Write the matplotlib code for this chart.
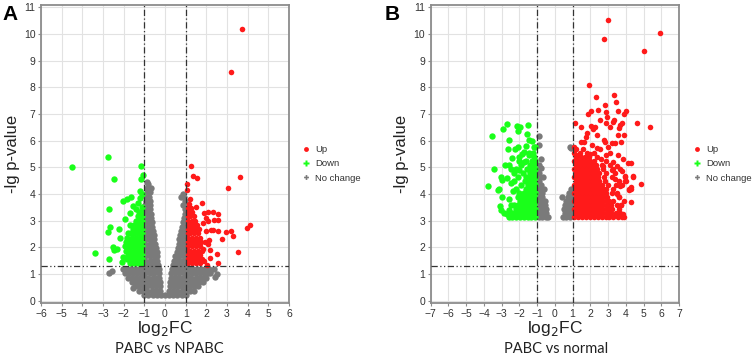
import matplotlib
matplotlib.use("Agg")
import matplotlib.pyplot as plt
from matplotlib.lines import Line2D

plt.rcParams['font.family'] = ['Liberation Sans', 'DejaVu Sans']

# ---------------- panel A : PABC vs NPABC ----------------
# dense parts written as rows: (y, [x, x, ...])
gray_a_rows = [
    (0.22, [-1.0, -0.8, -0.6, -0.4, -0.2, 0.0, 0.2, 0.4, 0.6, 0.8, 1.0]),
    (0.38, [-1.25, -1.05, -0.85, -0.65, -0.45, -0.25, 0.2, 0.4, 0.6, 0.8, 1.0, 1.2, 1.4]),
    (0.54, [-1.45, -1.25, -1.05, -0.85, -0.65, -0.45, -0.23, 0.22, 0.42, 0.62, 0.82, 1.02, 1.22, 1.42, 1.62]),
    (0.70, [-1.62, -1.42, -1.22, -1.02, -0.82, -0.62, -0.42, -0.25, 0.25, 0.45, 0.65, 0.85, 1.05, 1.25, 1.45, 1.65, 1.85]),
    (0.86, [-1.8, -1.6, -1.4, -1.2, -1.0, -0.8, -0.6, -0.4, -0.27, 0.28, 0.48, 0.68, 0.88, 1.08, 1.28, 1.48, 1.68, 1.88, 2.0]),
    (1.02, [-1.95, -1.75, -1.55, -1.35, -1.15, -0.95, -0.75, -0.55, -0.3, 0.31, 0.5, 0.7, 0.9, 1.1, 1.3, 1.5, 1.7, 1.9, 2.1, 2.2]),
    (1.18, [-2.05, -1.85, -1.65, -1.45, -1.25, -1.05, -0.85, -0.65, -0.45, -0.31, 0.35, 0.55, 0.75, 0.95, 1.15, 1.35, 1.55, 1.75, 1.95, 2.15, 2.35]),
    (1.34, [-0.95, -0.75, -0.55, -0.34, 0.38, 0.58, 0.78, 0.95]),
    (1.50, [-0.95, -0.75, -0.55, -0.37, 0.43, 0.63, 0.83, 0.95]),
    (1.66, [-0.95, -0.75, -0.55, -0.39, 0.5, 0.7, 0.9]),
    (1.82, [-0.95, -0.75, -0.58, -0.41, 0.56, 0.76, 0.95]),
    (1.98, [-0.95, -0.75, -0.6, -0.44, 0.62, 0.8, 0.95]),
    (2.14, [-0.95, -0.75, -0.6, -0.47, 0.67, 0.82, 0.95]),
    (2.30, [-0.95, -0.77, -0.6, -0.51, 0.7, 0.85, 0.95]),
    (2.46, [-0.95, -0.78, -0.62, -0.54, 0.74, 0.88, 0.95]),
    (2.62, [-0.95, -0.78, -0.6, 0.78, 0.92]),
    (2.78, [-0.95, -0.8, -0.62, 0.83, 0.95]),
    (2.94, [-0.95, -0.8, -0.65, 0.88, 0.96]),
    (3.10, [-0.95, -0.8, -0.68, 0.93]),
    (3.26, [-0.95, -0.82, -0.7, 0.95]),
    (3.42, [-0.95, -0.82, -0.72, 0.96]),
    (3.58, [-0.95, -0.8, -0.74, 0.85, 0.96]),
    (3.74, [-0.93, -0.78, 0.95]),
    (3.90, [-0.9, -0.78, 0.75, 0.9]),
    (4.06, [-0.88, -0.75]),
    (4.22, [-0.85, -0.7]),
    (4.38, [-0.82]),
]
gray_a_x = [-2.71, -2.55, 2.42, 2.18, 2.53, -1.56, -0.88, 0.88, -0.75]
gray_a_y = [1.02, 1.10, 0.90, 1.09, 1.00, 0.46, 4.45, 4.00, 3.75]

down_a_rows = [
    (1.40, [-1.1, -1.3, -1.5, -1.7]),
    (1.56, [-1.1, -1.3, -1.5, -1.7, -1.85]),
    (1.72, [-1.1, -1.2, -1.4, -1.6, -1.8]),
    (1.88, [-1.1, -1.3, -1.5, -1.7, -1.9]),
    (2.04, [-1.1, -1.2, -1.4, -1.6, -1.8, -1.95]),
    (2.20, [-1.1, -1.3, -1.5, -1.7, -1.9]),
    (2.36, [-1.1, -1.2, -1.4, -1.6, -1.85]),
    (2.52, [-1.1, -1.3, -1.5, -1.65, -1.8]),
    (2.68, [-1.1, -1.2, -1.4, -1.55]),
    (2.84, [-1.1, -1.3, -1.5, -1.7]),
    (3.00, [-1.1, -1.2, -1.4]),
    (3.16, [-1.1, -1.3]),
    (3.32, [-1.15, -1.25]),
    (3.50, [-1.1]),
]
down_a_x = [-4.49, -2.76, -2.47, -1.18, -1.05, -1.16, -1.21, -1.32, -1.65, -1.85, -2.02, -1.69,
            -2.69, -2.77, -2.66, -2.50, -2.47, -2.69, -3.39, -2.20, -2.10, -2.25, -1.95, -2.05,
            -2.30, -1.20, -1.40, -1.55, -1.10]
down_a_y = [5.00, 5.37, 4.55, 5.04, 4.73, 4.58, 4.11, 3.67, 3.90, 3.80, 3.73, 3.27,
            3.43, 2.58, 2.75, 2.02, 1.90, 1.56, 1.80, 2.35, 1.45, 2.70, 3.05, 1.65,
            1.95, 3.85, 3.45, 3.55, 4.00]

up_a_rows = [
    (1.40, [1.1, 1.3, 1.5, 1.7]),
    (1.56, [1.1, 1.2, 1.4, 1.6, 1.8]),
    (1.72, [1.1, 1.3, 1.5, 1.7]),
    (1.88, [1.1, 1.2, 1.4, 1.6, 1.8]),
    (2.04, [1.1, 1.3, 1.5, 1.7]),
    (2.20, [1.1, 1.2, 1.4, 1.6, 1.75]),
    (2.36, [1.1, 1.3, 1.5, 1.7]),
    (2.52, [1.1, 1.2, 1.4, 1.6]),
    (2.68, [1.1, 1.3, 1.5, 1.65]),
    (2.84, [1.1, 1.2, 1.4, 1.55]),
    (3.00, [1.1, 1.3, 1.45]),
    (3.16, [1.1, 1.2, 1.4]),
    (3.32, [1.1, 1.3]),
    (3.48, [1.1, 1.25]),
    (3.64, [1.15]),
]
up_a_x = [3.74, 3.19, 3.63, 3.06, 1.24, 1.37, 1.53, 1.08, 1.05, 1.77, 2.06, 2.34, 2.55, 2.37,
          2.58, 2.10, 4.11, 3.98, 3.19, 2.95, 3.31, 2.58, 2.32, 2.23, 2.74, 3.51, 2.50, 2.58,
          2.14, 2.09, 2.18, 1.90, 2.00, 1.95, 2.20, 1.90, 2.05, 1.85, 2.00, 1.85, 1.20, 1.50]
up_a_y = [10.20, 8.58, 4.62, 4.21, 5.06, 4.67, 4.61, 4.37, 4.14, 3.67, 3.33, 3.33, 3.25, 3.03,
          3.03, 3.00, 2.84, 2.71, 2.62, 2.58, 2.43, 2.62, 2.65, 2.65, 2.31, 1.84, 1.75, 1.42,
          2.27, 2.11, 1.90, 3.30, 2.60, 2.20, 1.60, 1.50, 1.35, 2.90, 3.10, 1.95, 3.80, 3.50]

# ---------------- panel B : PABC vs normal ----------------
gray_b_rows = [
    (3.15, [-0.9, -0.7, -0.5, -0.4, 0.45, 0.65, 0.85]),
    (3.30, [-0.9, -0.7, -0.5, 0.55, 0.75, 0.92]),
    (3.45, [-0.9, -0.7, -0.5, 0.5, 0.7, 0.9]),
    (3.60, [-0.9, -0.7, -0.55, 0.6, 0.8, 0.92]),
    (3.75, [-0.9, -0.7, -0.55, 0.65, 0.85]),
    (3.90, [-0.9, -0.72, 0.4, 0.75, 0.92]),
    (4.05, [-0.9, -0.75, 0.8, 0.92]),
    (4.20, [-0.9, -0.62, 0.9]),
    (4.35, [-0.92, -0.8]),
    (4.50, [-0.9]),
    (4.65, [-0.92, -0.66]),
    (4.80, [-0.9]),
    (4.96, [-0.76, -0.92]),
    (5.10, [-0.88]),
    (5.33, [-0.79]),
]
gray_b_x = [-0.88, -0.88, 0.85, 0.90]
gray_b_y = [5.83, 6.17, 5.77, 5.73]

down_b_rows = [
    (3.15, [-1.1, -1.32, -1.54, -1.76, -1.98, -2.2, -2.42, -2.6]),
    (3.30, [-1.2, -1.42, -1.64, -1.86, -2.08, -2.3, -2.5]),
    (3.45, [-1.1, -1.32, -1.54, -1.76, -1.98, -2.2]),
    (3.60, [-1.2, -1.42, -1.64, -1.86, -2.08, -2.3]),
    (3.75, [-1.1, -1.32, -1.54, -1.76, -1.98]),
    (3.90, [-1.2, -1.42, -1.64, -1.86, -2.1]),
    (4.05, [-1.1, -1.32, -1.54, -1.76, -2.0]),
    (4.20, [-1.2, -1.42, -1.64, -2.2]),
    (4.35, [-1.1, -1.32, -1.5, -1.9]),
    (4.50, [-1.2, -1.42, -1.7, -2.3]),
    (4.65, [-1.1, -1.32, -1.6, -2.05]),
    (4.80, [-1.2, -1.4, -1.8]),
    (4.95, [-1.1, -1.3, -1.55, -2.2]),
    (5.10, [-1.2, -1.38, -1.9]),
    (5.25, [-1.1, -1.3, -1.6]),
    (5.40, [-1.2, -2.0]),
    (5.55, [-1.25, -1.45]),
    (5.75, [-1.1, -1.2]),
]
down_b_x = [-3.56, -2.68, -2.91, -2.12, -1.97, -2.05, -1.55, -1.44, -1.50, -2.57, -2.24, -2.10,
            -1.76, -1.85, -2.40, -3.43, -3.75, -2.80, -2.57, -3.04, -3.00, -3.22, -3.16, -2.97,
            -3.12, -3.04, -2.57, -2.53, -2.70, -2.45, -2.60, -2.35, -2.50, -2.70, -2.30, -2.00,
            -2.45, -1.75, -1.45, -2.65, -2.00, -1.65, -1.30, -2.85]
down_b_y = [6.18, 6.64, 6.42, 6.55, 6.52, 6.38, 6.24, 6.04, 6.60, 6.04, 5.70, 5.77,
            5.56, 5.50, 5.36, 4.92, 4.30, 5.10, 5.10, 4.64, 4.52, 4.15, 4.20, 3.90,
            3.55, 3.40, 3.40, 3.20, 3.25, 3.60, 3.80, 4.10, 4.40, 4.60, 4.80, 4.90,
            4.95, 5.20, 5.45, 5.70, 5.25, 5.80, 6.00, 3.30]

up_b_rows = [
    (3.15, [1.1, 1.32, 1.54, 1.76, 1.98, 2.2, 2.42, 2.64, 2.86, 3.08, 3.3, 3.55, 3.8, 3.88]),
    (3.30, [1.2, 1.42, 1.64, 1.86, 2.08, 2.3, 2.52, 2.74, 2.96, 3.18, 3.45, 3.7]),
    (3.45, [1.1, 1.32, 1.54, 1.76, 1.98, 2.2, 2.42, 2.64, 2.86, 3.08, 3.25, 3.6]),
    (3.60, [1.2, 1.42, 1.64, 1.86, 2.08, 2.3, 2.52, 2.74, 2.96, 3.15, 3.5, 3.74]),
    (3.75, [1.1, 1.32, 1.54, 1.76, 1.98, 2.2, 2.42, 2.64, 2.86, 3.05, 3.3]),
    (3.90, [1.2, 1.42, 1.64, 1.86, 2.08, 2.3, 2.52, 2.74, 2.96, 3.64]),
    (4.05, [1.1, 1.32, 1.54, 1.76, 1.98, 2.2, 2.42, 2.64, 2.86, 3.2, 3.5]),
    (4.20, [1.2, 1.42, 1.64, 1.86, 2.08, 2.3, 2.52, 2.74, 2.9, 3.3, 4.19, 4.3]),
    (4.35, [1.1, 1.32, 1.54, 1.76, 1.98, 2.2, 2.42, 2.64, 3.0, 3.45, 3.8]),
    (4.50, [1.2, 1.42, 1.64, 1.86, 2.08, 2.3, 2.5, 2.8, 3.6, 4.0]),
    (4.65, [1.1, 1.32, 1.54, 1.76, 1.98, 2.2, 2.42, 2.75, 3.2, 3.96, 4.42]),
    (4.80, [1.2, 1.42, 1.64, 1.86, 2.08, 2.3, 2.5, 2.9, 3.4]),
    (4.95, [1.1, 1.32, 1.54, 1.76, 1.98, 2.2, 2.4, 2.7, 3.3, 3.7]),
    (5.10, [1.2, 1.42, 1.64, 1.86, 2.08, 2.3, 2.65, 3.1]),
    (5.25, [1.1, 1.32, 1.54, 1.76, 1.98, 2.2, 2.9]),
    (5.40, [1.2, 1.5, 1.72, 1.95, 2.4]),
    (5.55, [1.1, 1.4, 1.8, 2.2]),
]
up_b_x = [3.00, 2.77, 5.93, 5.01, 1.91, 2.30, 3.34, 3.45, 2.85, 2.04, 2.45, 2.87, 3.58, 4.00,
          3.91, 2.55, 3.26, 3.34, 4.66, 5.34, 1.13, 1.49, 1.79, 2.13, 2.25, 2.89, 3.11, 3.68,
          3.77, 3.62, 3.91, 1.75, 1.66, 2.75, 2.83, 3.21, 3.40, 3.74, 2.08, 2.36, 2.55, 3.02,
          3.58, 3.11, 4.15, 4.42, 3.96, 4.88, 4.30, 4.19, 3.64, 3.74, 4.28, 3.87, 4.30, 1.20,
          1.10, 1.30, 1.60, 2.00, 2.60, 2.90, 3.30, 3.50, 3.80, 3.95, 3.70, 3.50, 3.90, 3.45,
          2.70, 3.20, 3.40, 1.45, 2.35, 2.05, 1.85, 2.95, 3.55, 3.85]
up_b_y = [10.54, 9.83, 10.04, 9.36, 8.09, 7.65, 7.73, 7.44, 7.33, 7.13, 7.15, 7.09, 7.13, 7.13,
          7.01, 6.78, 6.71, 6.78, 6.68, 6.52, 6.65, 6.53, 6.30, 6.43, 6.50, 6.65, 6.50, 6.59,
          6.65, 6.46, 6.21, 6.15, 5.96, 6.03, 5.96, 5.93, 5.93, 5.96, 5.84, 5.74, 5.68, 5.78,
          5.46, 5.53, 5.18, 4.68, 4.68, 4.39, 4.25, 4.15, 3.90, 3.59, 3.71, 3.25, 5.17, 5.70,
          5.75, 5.45, 5.70, 5.50, 5.30, 5.45, 5.20, 5.05, 4.85, 4.50, 4.30, 4.00, 3.75, 3.20,
          5.05, 4.90, 4.55, 5.95, 6.20, 6.55, 7.00, 6.90, 6.20, 5.30]

gray_color = "#7a7a7a"
red_color = "#ff1a1a"
green_color = "#1aff1a"


def unroll(rows, extra_x, extra_y):
    xs, ys = [], []
    for y, row in rows:
        for x in row:
            xs.append(x)
            ys.append(y)
    return xs + list(extra_x), ys + list(extra_y)


def volcano(ax, gray, down, up, xlim):
    gx, gy = unroll(*gray)
    dx, dy = unroll(*down)
    ux, uy = unroll(*up)
    ax.scatter(gx, gy, s=21, marker="o", color=gray_color, linewidths=0, zorder=3)
    ax.scatter(dx, dy, s=21, marker="o", color=green_color, linewidths=0, zorder=4)
    ax.scatter(ux, uy, s=16, marker="o", color=red_color, linewidths=0, zorder=4)
    ax.axvline(-1, color="#333333", lw=0.9, ls=(0, (5, 2, 1, 2)), zorder=5)
    ax.axvline(1, color="#333333", lw=0.9, ls=(0, (5, 2, 1, 2)), zorder=5)
    ax.axhline(1.3, color="#333333", lw=0.9, ls=(0, (5, 2, 1, 2, 1, 2)), zorder=5)
    ax.set_xlim(xlim)
    ax.set_ylim(-0.1, 11.1)
    ax.set_xticks(range(xlim[0], xlim[1] + 1))
    ax.set_yticks(range(0, 12))
    ax.grid(True, color="#e2e2e2", lw=0.8, zorder=0)
    ax.set_axisbelow(True)
    for sp in ax.spines.values():
        sp.set_color("#8c8c8c")
        sp.set_linewidth(1.3)
    ax.tick_params(labelsize=7.5, colors="#8c8c8c", labelcolor="#333333", length=2, width=0.8, pad=2)
    ax.set_xlabel(r"log$_2$FC", fontsize=12.5, color="#222222", labelpad=0)
    ax.set_ylabel("-lg p-value", fontsize=12, color="#222222", labelpad=3)


fig = plt.figure(figsize=(7.54, 3.56), dpi=100)
ax1 = fig.add_axes([41 / 754, 52.7 / 356, 248 / 754, 298.6 / 356])
ax2 = fig.add_axes([430.7 / 754, 52.7 / 356, 248.3 / 754, 298.6 / 356])

volcano(ax1, (gray_a_rows, gray_a_x, gray_a_y), (down_a_rows, down_a_x, down_a_y),
        (up_a_rows, up_a_x, up_a_y), (-6, 6))
volcano(ax2, (gray_b_rows, gray_b_x, gray_b_y), (down_b_rows, down_b_x, down_b_y),
        (up_b_rows, up_b_x, up_b_y), (-7, 7))

handles = [
    Line2D([], [], ls="", marker="o", ms=3.5, mfc=red_color, mec="none", label="Up"),
    Line2D([], [], ls="", marker="P", ms=4.5, mfc=green_color, mec="none", label="Down"),
    Line2D([], [], ls="", marker="P", ms=3.5, mfc=gray_color, mec="none", label="No change"),
]
for ax, x0 in ((ax1, 302 / 754), (ax2, 693 / 754)):
    fig.legend(handles=handles, loc="center left", bbox_to_anchor=(x0, 1 - 164 / 356),
               frameon=False, fontsize=6.8, handlelength=0.8, handletextpad=0.6,
               labelspacing=0.55, borderpad=0, borderaxespad=0, labelcolor="#333333")

fig.text(0.003, 0.985, "A", fontsize=15, fontweight="bold", va="top", ha="left")
fig.text(385 / 754, 0.985, "B", fontsize=15, fontweight="bold", va="top", ha="left")
fig.text(169 / 754, 1 - 349 / 356, "PABC vs NPABC", fontsize=10.5, ha="center", va="center",
         family=["Lato", "DejaVu Sans"], color="#222222")
fig.text(556 / 754, 1 - 349 / 356, "PABC vs normal", fontsize=10.5, ha="center", va="center",
         family=["Lato", "DejaVu Sans"], color="#222222")

fig.savefig("out.png", dpi=100)
